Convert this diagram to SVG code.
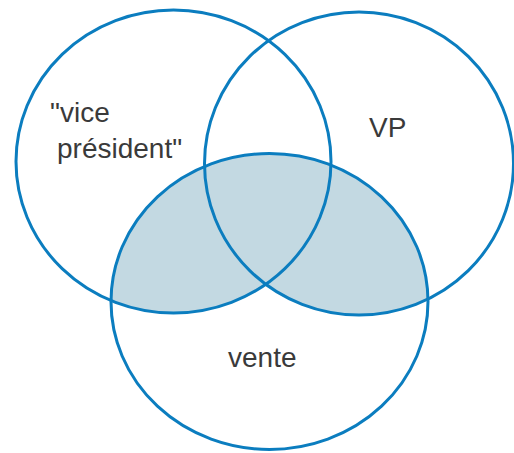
<svg xmlns="http://www.w3.org/2000/svg" width="514" height="453" viewBox="0 0 514 453">
  <style>
    .ring { fill: none; stroke: #0b7dbf; stroke-width: 3; }
    .shade { fill: #c3d9e2; stroke: none; }
    .lbl { font-family: "Liberation Sans", Arial, sans-serif; font-size: 28px; fill: #3a3a3a; }
  </style>
  <defs>
    <clipPath id="clipBottom">
      <ellipse cx="269.5" cy="301.5" rx="158.5" ry="148"/>
    </clipPath>
  </defs>
  <rect width="514" height="453" fill="#ffffff"/>
  <g id="shading" clip-path="url(#clipBottom)">
    <ellipse class="shade" cx="173.5" cy="161.5" rx="157.5" ry="151.5"/>
    <ellipse class="shade" cx="359" cy="163.5" rx="154.5" ry="151.5"/>
  </g>
  <g id="circle-vice-president">
    <ellipse class="ring" cx="173.5" cy="161.5" rx="157.5" ry="151.5"/>
    <text class="lbl" x="50" y="122">"vice</text>
    <text class="lbl" x="57" y="158">président"</text>
  </g>
  <g id="circle-vp">
    <ellipse class="ring" cx="359" cy="163.5" rx="154.5" ry="151.5"/>
    <text class="lbl" x="369" y="137">VP</text>
  </g>
  <g id="circle-vente">
    <ellipse class="ring" cx="269.5" cy="301.5" rx="158.5" ry="148"/>
    <text class="lbl" x="228" y="367">vente</text>
  </g>
</svg>
